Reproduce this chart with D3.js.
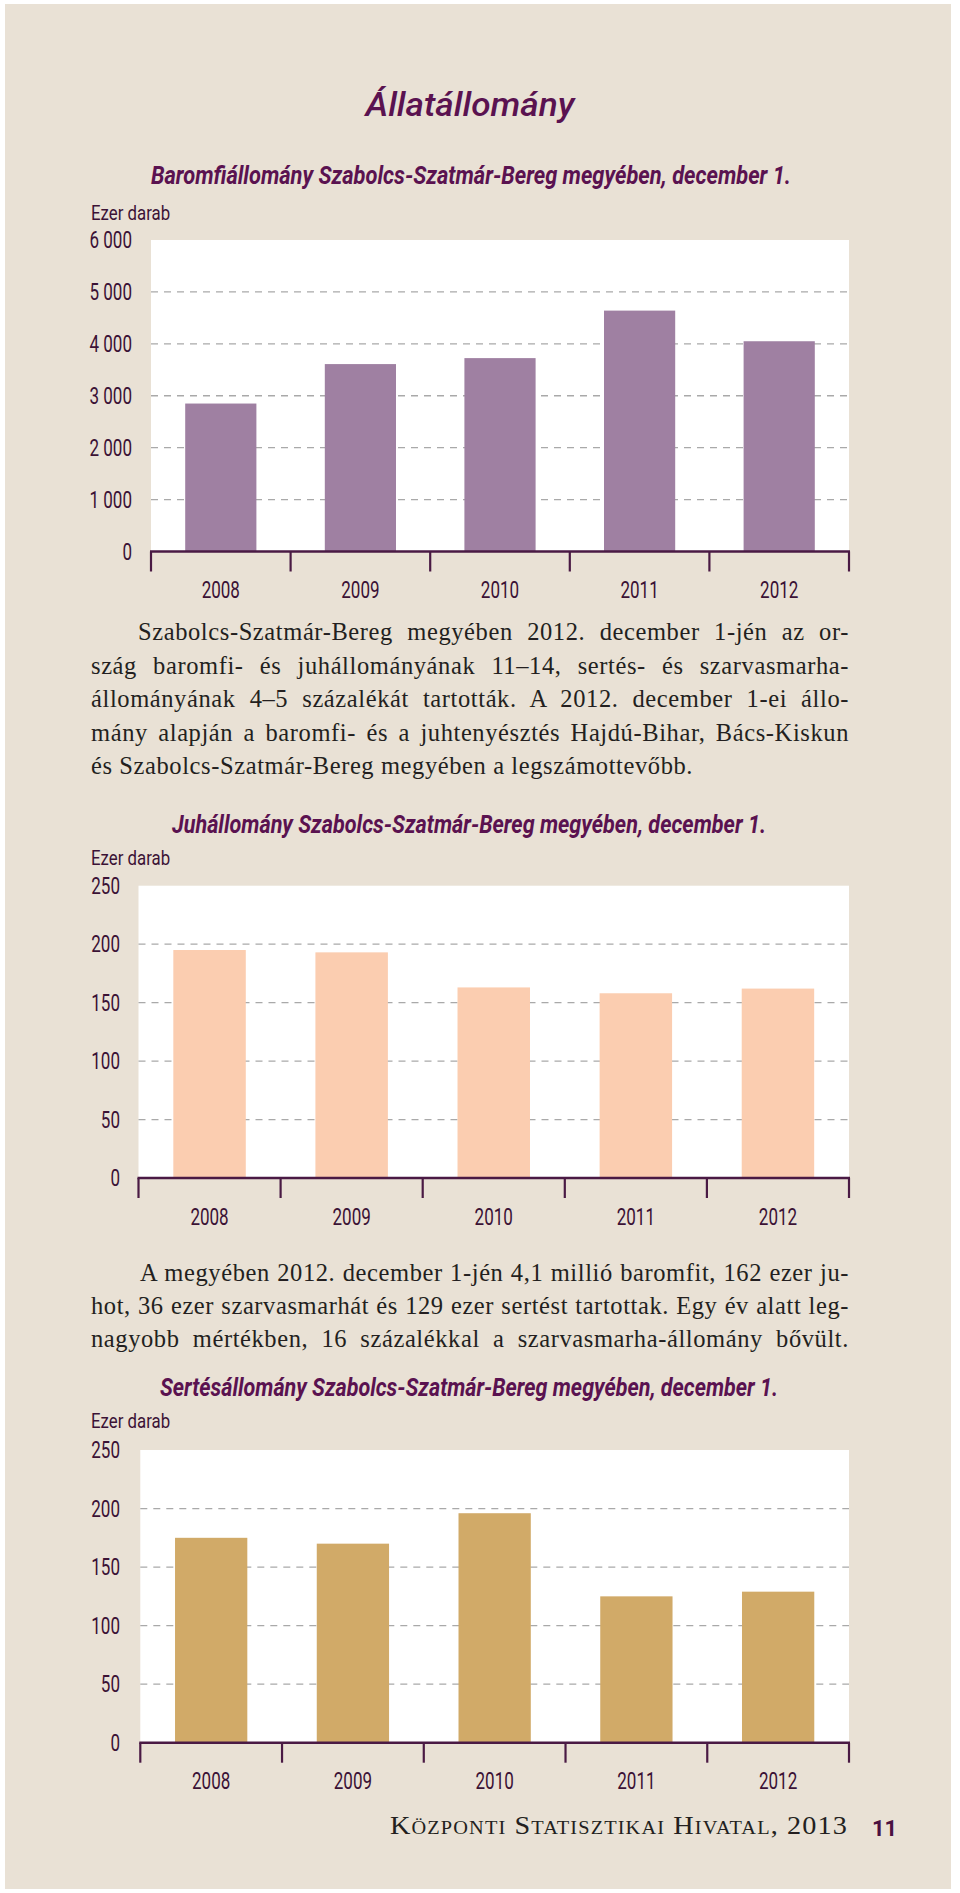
<!DOCTYPE html>
<html>
<head>
<meta charset="utf-8">
<script src="https://cdn.jsdelivr.net/npm/d3@7"></script>
<style>
  html, body { margin: 0; padding: 0; background: #ffffff; }
  svg { display: block; }
</style>
</head>
<body>
<svg id="page" width="960" height="1893"></svg>
<script>
// ---------------- DATA ----------------
const years = ["2008", "2009", "2010", "2011", "2012"];
const poultryValues = [2850, 3610, 3725, 4640, 4050];   // ezer darab
const sheepValues   = [195, 193, 163, 158, 162];         // ezer darab
const pigValues     = [175, 170, 196, 125, 129];         // ezer darab
const poultryTicks  = [0, 1000, 2000, 3000, 4000, 5000, 6000];
const smallTicks    = [0, 50, 100, 150, 200, 250];

const pageTitle = "Állatállomány";
const chartTitles = [
  "Baromfiállomány Szabolcs-Szatmár-Bereg megyében, december 1.",
  "Juhállomány Szabolcs-Szatmár-Bereg megyében, december 1.",
  "Sertésállomány Szabolcs-Szatmár-Bereg megyében, december 1."
];
const unitLabel = "Ezer darab";
const paragraph1 = [
  "Szabolcs-Szatmár-Bereg megyében 2012. december 1-jén az or-",
  "szág baromfi- és juhállományának 11–14, sertés- és szarvasmarha-",
  "állományának 4–5 százalékát tartották. A 2012. december 1-ei állo-",
  "mány alapján a baromfi- és a juhtenyésztés Hajdú-Bihar, Bács-Kiskun",
  "és Szabolcs-Szatmár-Bereg megyében a legszámottevőbb."
];
const paragraph2 = [
  "A megyében 2012. december 1-jén 4,1 millió baromfit, 162 ezer ju-",
  "hot, 36 ezer szarvasmarhát és 129 ezer sertést tartottak. Egy év alatt leg-",
  "nagyobb mértékben, 16 százalékkal a szarvasmarha-állomány bővült."
];
const footerText = "Központi Statisztikai Hivatal, 2013";
const pageNumber = "11";

// ---------------- STYLE ----------------
const C = {
  page: "#e9e1d5",
  title: "#5a1250",
  label: "#3b1235",
  axis: "#4a1a44",
  grid: "#a9a9a9",
  text: "#231f20"
};
const SANS = "Roboto, 'Open Sans', 'DejaVu Sans', sans-serif";
const SERIF = "'Liberation Serif', 'DejaVu Serif', serif";

const svg = d3.select("#page");
svg.append("rect").attr("x", 5).attr("y", 4).attr("width", 946).attr("height", 1885).attr("fill", C.page);

const huLocale = d3.formatLocale({ decimal: ",", thousands: " ", grouping: [3], currency: ["", ""] });
const fmt = huLocale.format(",");

function condense(sel, f) {
  sel.each(function () {
    const w = this.getComputedTextLength();
    this.setAttribute("textLength", (w * f).toFixed(2));
    this.setAttribute("lengthAdjust", "spacingAndGlyphs");
  });
  return sel;
}

// ---------------- TITLES ----------------
svg.append("text")
  .attr("x", 470).attr("y", 116)
  .attr("text-anchor", "middle")
  .attr("font-family", SANS).attr("font-size", 33).attr("font-style", "italic").attr("font-weight", 500)
  .attr("fill", C.title)
  .attr("textLength", 209).attr("lengthAdjust", "spacingAndGlyphs")
  .text(pageTitle);

function chartTitle(txt, cx, y, w) {
  svg.append("text")
    .attr("x", cx).attr("y", y)
    .attr("text-anchor", "middle")
    .attr("font-family", SANS).attr("font-size", 25).attr("font-style", "italic").attr("font-weight", 700)
    .attr("fill", C.title)
    .attr("textLength", w).attr("lengthAdjust", "spacingAndGlyphs")
    .text(txt);
}

// ---------------- CHART ----------------
function drawChart(cfg) {
  const g = svg.append("g");
  const x = d3.scaleBand().domain(years).range([cfg.x0, cfg.x1]).paddingInner(0.49).paddingOuter(0.245);
  const y = d3.scaleLinear().domain([0, cfg.max]).range([cfg.y1, cfg.y0]);

  // white plot area
  g.append("rect").attr("x", cfg.x0).attr("y", y(cfg.max))
    .attr("width", cfg.x1 - cfg.x0).attr("height", y(0) - y(cfg.max)).attr("fill", "#ffffff");

  // gridlines
  const gridVals = cfg.ticks.filter(t => t > 0 && t < cfg.max);
  g.selectAll(".grid").data(gridVals).join("line")
    .attr("x1", cfg.x0).attr("x2", cfg.x1)
    .attr("y1", d => y(d)).attr("y2", d => y(d))
    .attr("stroke", C.grid).attr("stroke-width", 1.3).attr("stroke-dasharray", "7,6");

  // bars
  g.selectAll(".bar").data(cfg.values).join("rect")
    .attr("x", (d, i) => x(years[i])).attr("width", x.bandwidth())
    .attr("y", d => y(d)).attr("height", d => y(0) - y(d))
    .attr("fill", cfg.color);

  // y labels
  condense(g.selectAll(".ylab").data(cfg.ticks).join("text")
    .attr("x", cfg.labelRight).attr("y", d => y(d))
    .attr("dy", "0.36em")
    .attr("text-anchor", "end")
    .attr("font-family", SANS).attr("font-size", 23).attr("fill", C.label)
    .text(d => fmt(d)), 0.74);

  // unit label
  condense(g.append("text")
    .attr("x", 91).attr("y", cfg.unitY).attr("dy", "0.36em")
    .attr("font-family", SANS).attr("font-size", 21).attr("fill", C.label)
    .text(unitLabel), 0.8);

  // x axis: baseline and category boundary ticks
  const off = (x.step() - x.bandwidth()) / 2;
  const bounds = years.map(yr => x(yr) - off).concat([cfg.x1]);
  g.selectAll(".xtick").data(bounds).join("line")
    .attr("x1", d => d).attr("x2", d => d)
    .attr("y1", y(0)).attr("y2", y(0) + 20)
    .attr("stroke", C.axis).attr("stroke-width", 2.2);
  g.append("line").attr("x1", cfg.x0 - 1).attr("x2", cfg.x1 + 1)
    .attr("y1", y(0)).attr("y2", y(0))
    .attr("stroke", C.axis).attr("stroke-width", 2.6);

  condense(g.selectAll(".xlab").data(years).join("text")
    .attr("x", d => x(d) + x.bandwidth() / 2).attr("y", y(0) + 38.5)
    .attr("dy", "0.36em").attr("text-anchor", "middle")
    .attr("font-family", SANS).attr("font-size", 23).attr("fill", C.label)
    .text(d => d), 0.74);
}

chartTitle(chartTitles[0], 471, 184, 640);
drawChart({ x0: 151, x1: 849, y0: 240, y1: 551.5, max: 6000, ticks: poultryTicks,
  values: poultryValues, color: "#9f80a2", labelRight: 132, unitY: 212 });

chartTitle(chartTitles[1], 469, 833, 594);
drawChart({ x0: 138.5, x1: 849, y0: 885.7, y1: 1178, max: 250, ticks: smallTicks,
  values: sheepValues, color: "#fbcdb0", labelRight: 120, unitY: 857 });

chartTitle(chartTitles[2], 469, 1395.7, 618);
drawChart({ x0: 140.3, x1: 849, y0: 1450, y1: 1742.7, max: 250, ticks: smallTicks,
  values: pigValues, color: "#d1aa68", labelRight: 120, unitY: 1420 });

// ---------------- PARAGRAPHS ----------------
const PFS = 24.5;
function makeLine(txt, xx, yy) {
  return svg.append("text").attr("x", xx).attr("y", yy)
    .attr("font-family", SERIF).attr("font-size", PFS).attr("fill", C.text)
    .attr("xml:space", "preserve")
    .text(txt);
}
// letter spacing calibrated from the unjustified last line of paragraph 1 (target width 623)
const probe = makeLine(paragraph1[4], 91, -100);
const w0 = probe.node().getComputedTextLength();
let LS = (623 - w0) / (paragraph1[4].length - 1);
LS = Math.max(-0.6, Math.min(0.6, LS));
probe.remove();

function paragraph(lines, x0, x1, baselines, indent, justifyLast) {
  lines.forEach((ln, i) => {
    const xx = x0 + (i === 0 ? indent : 0);
    const t = makeLine(ln, xx, baselines[i]).attr("letter-spacing", LS);
    const isLast = i === lines.length - 1;
    if (!isLast || justifyLast) {
      const target = x1 - xx;
      const w = t.node().getComputedTextLength();
      const n = (ln.match(/ /g) || []).length;
      const ws = n ? (target - w) / n : 0;
      if (ws < -2.5) {
        t.attr("textLength", target).attr("lengthAdjust", "spacingAndGlyphs");
      } else {
        t.attr("word-spacing", ws);
      }
    }
  });
}
paragraph(paragraph1, 91, 849, [640, 673.5, 707, 740.5, 774], 47, false);
paragraph(paragraph2, 91, 849, [1280.7, 1314, 1347.3], 49, true);

// ---------------- FOOTER ----------------
svg.append("text").attr("x", 848).attr("y", 1834)
  .attr("text-anchor", "end")
  .attr("font-family", SERIF).attr("font-size", 25).attr("font-variant", "small-caps")
  .attr("letter-spacing", 1).attr("fill", C.text)
  .attr("textLength", 458).attr("lengthAdjust", "spacingAndGlyphs")
  .text(footerText);
svg.append("text").attr("x", 872).attr("y", 1836)
  .attr("font-family", SANS).attr("font-size", 22).attr("font-weight", 700).attr("fill", "#4a1040")
  .text(pageNumber);
</script>
</body>
</html>
